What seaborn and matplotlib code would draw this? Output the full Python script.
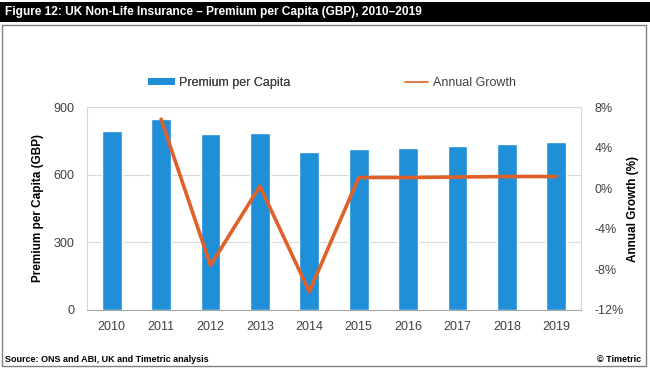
import matplotlib
matplotlib.use("Agg")
import matplotlib.pyplot as plt
import seaborn as sns
import numpy as np
import pandas as pd
from matplotlib.patches import Rectangle, Patch
from matplotlib.lines import Line2D
from matplotlib.ticker import FuncFormatter, MultipleLocator

years = ["2010", "2011", "2012", "2013", "2014", "2015", "2016", "2017", "2018", "2019"]
premium = [794, 846, 781, 785, 702, 713, 717, 726, 735, 744]
growth = [np.nan, 6.8, -7.6, 0.2, -10.2, 1.05, 1.05, 1.1, 1.15, 1.15]

title = "Figure 12: UK Non-Life Insurance \u2013 Premium per Capita (GBP), 2010\u20132019"
source = "Source: ONS and ABI, UK and Timetric analysis"
credit = "\u00a9 Timetric"

sns.set_theme(style="white")
plt.rcParams["font.family"] = ["Liberation Sans", "DejaVu Sans"]

BLUE = "#1F90D8"
ORANGE = "#E0602A"
GRID = "#D9D9D9"
TXT = "#404040"
FS = 9

df = pd.DataFrame({"year": years, "premium": premium, "growth": growth})

fig = plt.figure(figsize=(6.5, 3.7), dpi=100)
W, H = 650, 370
ax = fig.add_axes([87 / W, 1 - 310 / H, (581 - 87) / W, (310 - 107) / H])

sns.barplot(data=df, x="year", y="premium", color=BLUE, width=0.4,
            saturation=1, ax=ax, zorder=2)
ax.set_ylim(0, 900)
ax.yaxis.set_major_locator(MultipleLocator(300))
ax.grid(axis="y", color=GRID, linewidth=0.8, zorder=0)
ax.set_axisbelow(True)
ax.set_xlabel("")
ax.set_ylabel("Premium per Capita (GBP)", fontsize=8.5, fontweight="bold",
              color="black", labelpad=7)
ax.tick_params(axis="y", labelsize=FS, labelcolor=TXT, length=0, pad=9)
ax.tick_params(axis="x", labelsize=FS, labelcolor=TXT, length=0, pad=8)
for s in ["left", "right", "top"]:
    ax.spines[s].set_color(GRID)
    ax.spines[s].set_linewidth(0.8)
ax.spines["top"].set_visible(False)
ax.spines["bottom"].set_color("#A6A6A6")
ax.spines["bottom"].set_linewidth(0.8)
ax.set_xticks(np.arange(-0.5, len(years), 1.0), minor=True)
ax.tick_params(axis="x", which="minor", length=3, color="#A6A6A6", direction="out")

ax2 = ax.twinx()
sns.pointplot(data=df, x="year", y="growth", color=ORANGE, markers="",
              errorbar=None, ax=ax2, linewidth=2.6)
ax2.set_ylim(-12, 8)
ax2.yaxis.set_major_locator(MultipleLocator(4))
ax2.yaxis.set_major_formatter(FuncFormatter(lambda v, p: f"{v:.0f}%"))
ax2.tick_params(axis="y", labelsize=FS, labelcolor=TXT, length=0, pad=10)
ax2.set_ylabel("Annual Growth (%)", fontsize=8.5, fontweight="bold",
               color="black", labelpad=2)
ax2.set_xlabel("")
for s in ax2.spines.values():
    s.set_visible(False)
ax2.grid(False)
ax.set_xlim(-0.5, len(years) - 0.5)

fsz = FS * 100 / 72.0
leg1 = fig.legend([Patch(facecolor=BLUE, edgecolor="none")], ["Premium per Capita"],
                  loc="center left", bbox_to_anchor=(148 / W, 1 - 83 / H),
                  frameon=False, fontsize=FS, handlelength=27 / fsz,
                  handleheight=0.42, handletextpad=4 / fsz, borderpad=0,
                  borderaxespad=0, labelcolor=TXT)
fig.add_artist(leg1)
fig.legend([Line2D([0], [0], color=ORANGE, linewidth=1.2)], ["Annual Growth"],
           loc="center left", bbox_to_anchor=(405 / W, 1 - 83 / H),
           frameon=False, fontsize=FS, handlelength=23 / fsz,
           handletextpad=5 / fsz, borderpad=0, borderaxespad=0, labelcolor=TXT)

# title bar
fig.patches.append(Rectangle((0, 1 - 22 / H), 1, 20 / H, transform=fig.transFigure,
                             facecolor="black", edgecolor="none", zorder=0))
fig.text(5 / W, 1 - 12.5 / H, title, color="white", fontsize=8.6, fontweight="bold",
         va="center", ha="left")
# frame
fig.patches.append(Rectangle((2 / W, 1 - 366 / H), 644 / W, 341 / H,
                             transform=fig.transFigure, facecolor="none",
                             edgecolor="#808080", linewidth=1, zorder=0))
fig.text(5 / W, 1 - 360 / H, source, fontsize=6.5, fontweight="bold", va="center",
         ha="left", color="black")
fig.text(641 / W, 1 - 360 / H, credit, fontsize=6.5, fontweight="bold", va="center",
         ha="right", color="black")

fig.savefig("out.png", dpi=100, facecolor="white")
